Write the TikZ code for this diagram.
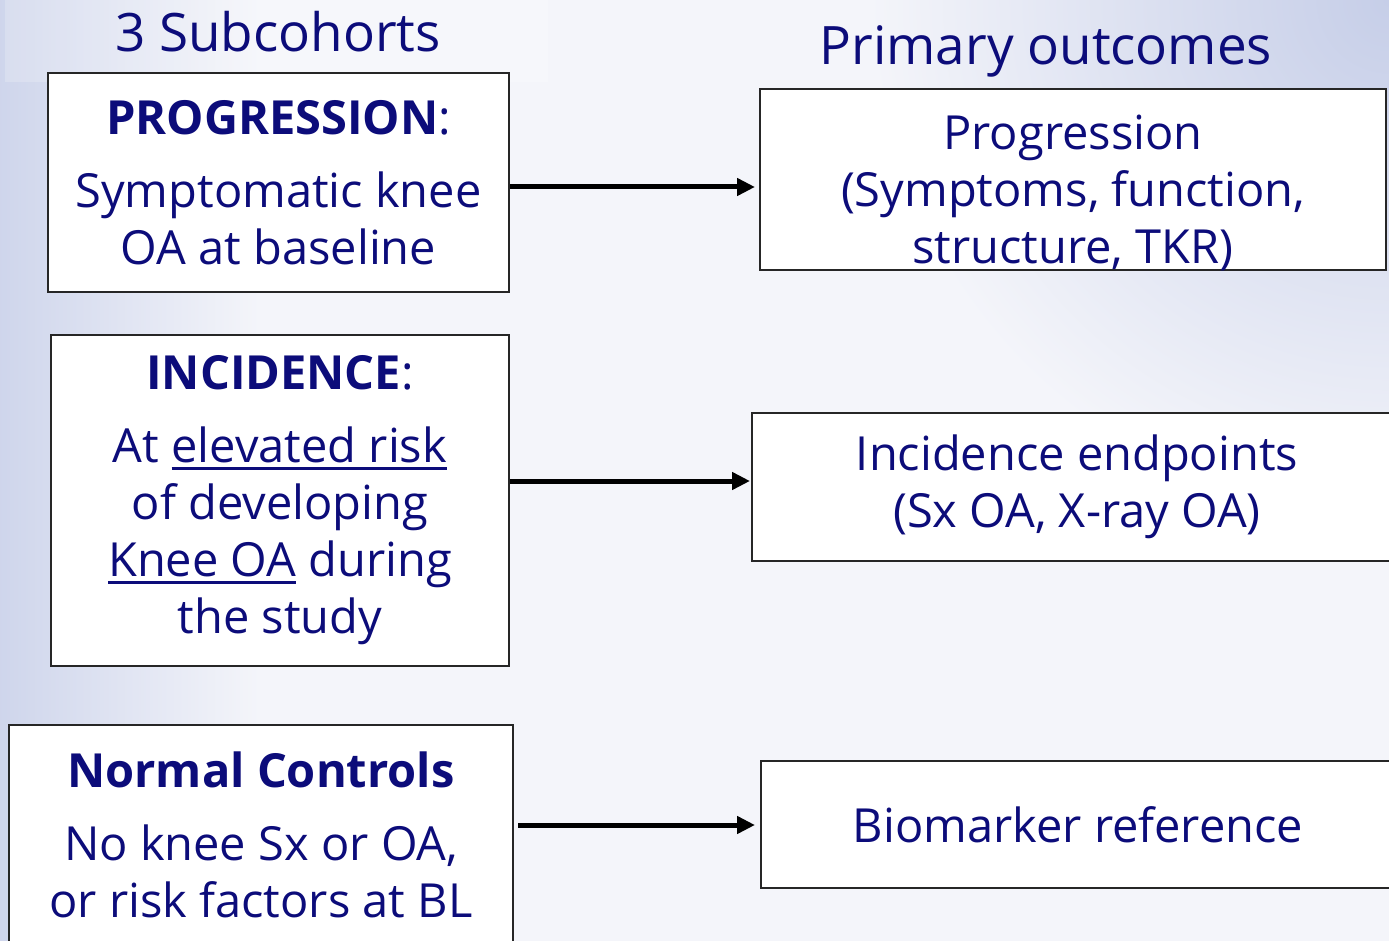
\documentclass[tikz,border=0pt]{standalone}
\usepackage{fontspec}
\setmainfont{Open Sans}
\usetikzlibrary{arrows.meta}
\definecolor{navy}{RGB}{12,12,122}
\definecolor{bgblue}{RGB}{198,206,232}
\definecolor{bgmid}{RGB}{244,245,250}
\newcommand{\myul}[1]{\setbox0\hbox{#1}\rlap{\rule[-7.5pt]{\wd0}{3.5pt}}\box0\relax}
\newcommand{\bodyfont}{\fontsize{47}{57}\selectfont}
\newcommand{\titlefont}{\fontsize{53}{60}\selectfont}
\tikzset{
  box/.style={draw=black!85, line width=2pt, fill=white, align=center,
    text=navy, font=\bodyfont, inner sep=0pt},
  txt/.style={align=center, text=navy, font=\bodyfont, inner sep=0pt},
  ttl/.style={text=navy, font=\titlefont, inner sep=0pt, anchor=base},
  arr/.style={line width=5pt, -{Triangle[length=18pt,width=17pt]}},
}
\begin{document}
\begin{tikzpicture}[x=1pt,y=-1pt]
\useasboundingbox (0,0) rectangle (1389,941);
\clip (0,0) rectangle (1389,941);
% background
\fill[bgmid] (0,0) rectangle (1389,941);
\shade[left color=bgblue!85, right color=bgmid] (0,0) rectangle (260,941);
\shade[inner color=bgblue, outer color=bgmid] (1389,0) circle (520);
\fill[white, opacity=0.2] (5,0) rectangle (548,82);
% titles
\node[ttl] (t1) at (278,52) {3 Subcohorts};
\node[ttl] (t2) at (1046,65) {Primary outcomes};
% left boxes
\node[box, minimum width=461, minimum height=219] (P) at (278.5,182.5)
  {{\bfseries PROGRESSION}:\\[16pt] Symptomatic knee\\ OA at baseline};
\node[box, minimum width=458, minimum height=331] (I) at (280,500.5)
  {{\bfseries INCIDENCE}:\\[16pt] At \myul{elevated risk}\\ of developing\\ \myul{Knee OA} during\\ the study};
\node[box, minimum width=504, minimum height=220] (N) at (261,835)
  {{\bfseries Normal Controls}\\[16pt] No knee Sx or OA,\\ or risk factors at BL};
% right boxes
\node[box, minimum width=626, minimum height=181] (PO) at (1073,179.5) {};
\node[txt] (POt) at ([yshift=-13pt]PO.center)
  {Progression\\ (Symptoms, function,\\ structure, TKR)};
\node[box, minimum width=650, minimum height=148] (IO) at (1077,487)
  {Incidence endpoints\\ (Sx OA, X-ray OA)};
\node[box, minimum width=634, minimum height=127] (NO) at (1078,824.5)
  {Biomarker reference};
% arrow levels
\coordinate (y1) at (0,187);
\coordinate (y2) at (0,481);
\coordinate (y3) at (0,825);
\draw[arr, shorten >=4pt] (P.east |- y1) -- (PO.west |- y1);
\draw[arr, shorten >=1pt] (I.east |- y2) -- (IO.west |- y2);
\draw[arr, shorten <=4pt, shorten >=5pt] (N.east |- y3) -- (NO.west |- y3);
\end{tikzpicture}
\end{document}
